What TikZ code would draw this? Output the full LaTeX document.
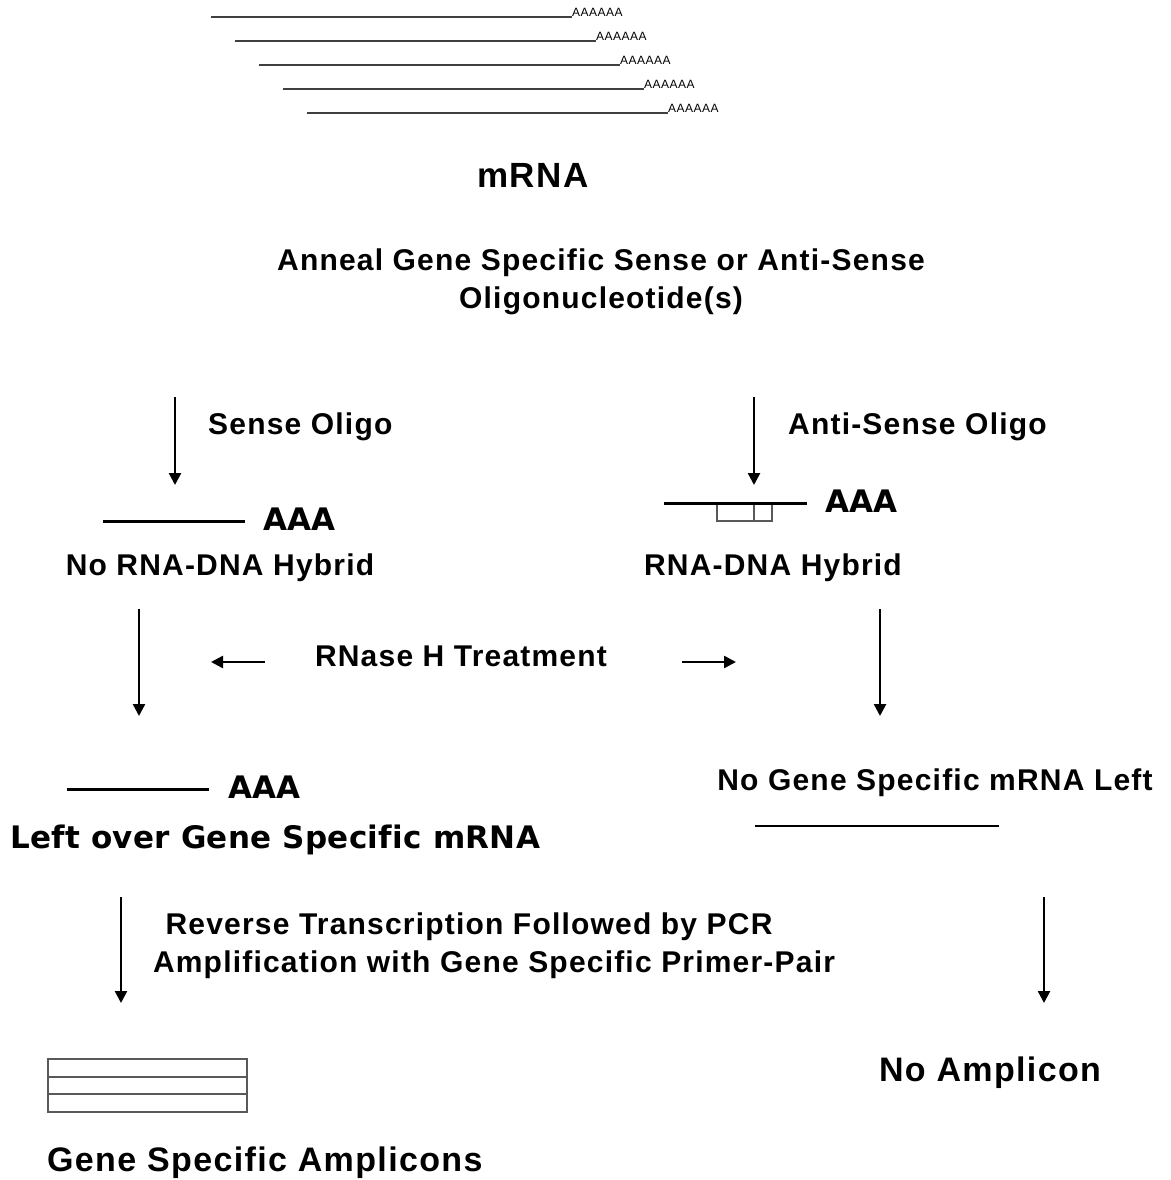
\documentclass[tikz,border=0pt]{standalone}
\usepackage{fontspec}
\setmainfont{Liberation Sans}[LetterSpace=4]
\newfontfamily\blackfont{DejaVu Sans}[LetterSpace=1, Ligatures=NoCommon]
\usepackage{tikz}
\usetikzlibrary{arrows.meta}

\tikzset{
  txt/.style={font=\bfseries\fontsize{30}{36}\selectfont, inner sep=0pt},
  bigtxt/.style={font=\bfseries\fontsize{34}{40}\selectfont, inner sep=0pt},
  heavy/.style={font=\blackfont\bfseries\fontsize{31}{37}\selectfont, inner sep=0pt},
  polya/.style={font=\fontsize{12}{13}\selectfont, inner sep=0pt, anchor=south west},
  arr/.style={-{Triangle[length=12pt, width=12pt]}, line width=2.5pt},
  strand/.style={line width=3pt},
  thinbox/.style={draw=black!65, line width=1.5pt}
}

\begin{document}
\begin{tikzpicture}[x=1pt, y=-1pt]
\useasboundingbox (0,0) rectangle (1170,1180);

% mRNA pool
\foreach \i in {0,...,4}{
  \coordinate (m\i a) at (211+24*\i, 17+24*\i);
  \coordinate (m\i b) at (572+24*\i, 17+24*\i);
  \draw[black!75, line width=1.5pt] (m\i a) -- (m\i b);
  \node[polya] (pa\i) at (m\i b) {AAAAAA};
}
\node[txt, font=\bfseries\fontsize{35}{40}\selectfont] (mrna) at (533,175) {mRNA};

\node[txt, align=center] (anneal) at (601,282) {Anneal Gene Specific Sense or Anti-Sense\\[2pt]Oligonucleotide(s)};

% sense branch
\coordinate (s1) at (175,397);
\coordinate (s2) at (175,485);
\draw[arr] (s1) -- (s2);
\node[txt, anchor=west] (sense) at (208,427) {Sense Oligo};

\coordinate (l1) at (103,521);
\coordinate (l2) at (245,521);
\draw[strand] (l1) -- (l2);
\node[heavy, anchor=west] (aaa1) at (263,519) {AAA};
\node[txt] (nohyb) at (220,568) {No RNA-DNA Hybrid};

% anti-sense branch
\coordinate (a1) at (754,397);
\coordinate (a2) at (754,485);
\draw[arr] (a1) -- (a2);
\node[txt, anchor=west] (antisense) at (788,427) {Anti-Sense Oligo};

\coordinate (r1) at (664,503);
\coordinate (r2) at (807,503);
\draw[thinbox] (717,503) rectangle (772,521);
\draw[thinbox] (754,503) -- (754,521);
\draw[strand] (r1) -- (r2);
\node[heavy, anchor=west] (aaa2) at (825,501) {AAA};
\node[txt] (hyb) at (773,568) {RNA-DNA Hybrid};

% RNase H
\coordinate (d1) at (139,609);
\coordinate (d2) at (139,716);
\draw[arr] (d1) -- (d2);
\coordinate (e1) at (880,609);
\coordinate (e2) at (880,716);
\draw[arr] (e1) -- (e2);
\node[txt] (rnase) at (461,656) {RNase H Treatment};
\coordinate (h1) at (265,662);
\coordinate (h2) at (211,662);
\draw[arr] (h1) -- (h2);
\coordinate (k1) at (682,662);
\coordinate (k2) at (736,662);
\draw[arr] (k1) -- (k2);

% after digestion
\coordinate (f1) at (67,789);
\coordinate (f2) at (209,789);
\draw[strand] (f1) -- (f2);
\node[heavy, anchor=west] (aaa3) at (228,787) {AAA};
\node[heavy, anchor=west] (leftover) at (10,840) {Left over Gene Specific mRNA};

\node[txt] (nomrna) at (935,783) {No Gene Specific mRNA Left};
\coordinate (g1) at (755,826);
\coordinate (g2) at (999,826);
\draw[line width=2pt] (g1) -- (g2);

% RT-PCR
\coordinate (p1) at (121,897);
\coordinate (p2) at (121,1003);
\draw[arr] (p1) -- (p2);
\coordinate (q1) at (1044,897);
\coordinate (q2) at (1044,1003);
\draw[arr] (q1) -- (q2);
\node[txt] (rt1) at (469,927) {Reverse Transcription Followed by PCR};
\node[txt] (rt2) at (494,965) {Amplification with Gene Specific Primer-Pair};

% products
\draw[thinbox] (48,1059) rectangle (247,1112);
\draw[thinbox] (48,1077) -- (247,1077);
\draw[thinbox] (48,1094) -- (247,1094);
\node[bigtxt, anchor=west] (amplicons) at (47,1163) {Gene Specific Amplicons};
\node[bigtxt] (noamp) at (990,1073) {No Amplicon};

\end{tikzpicture}
\end{document}
